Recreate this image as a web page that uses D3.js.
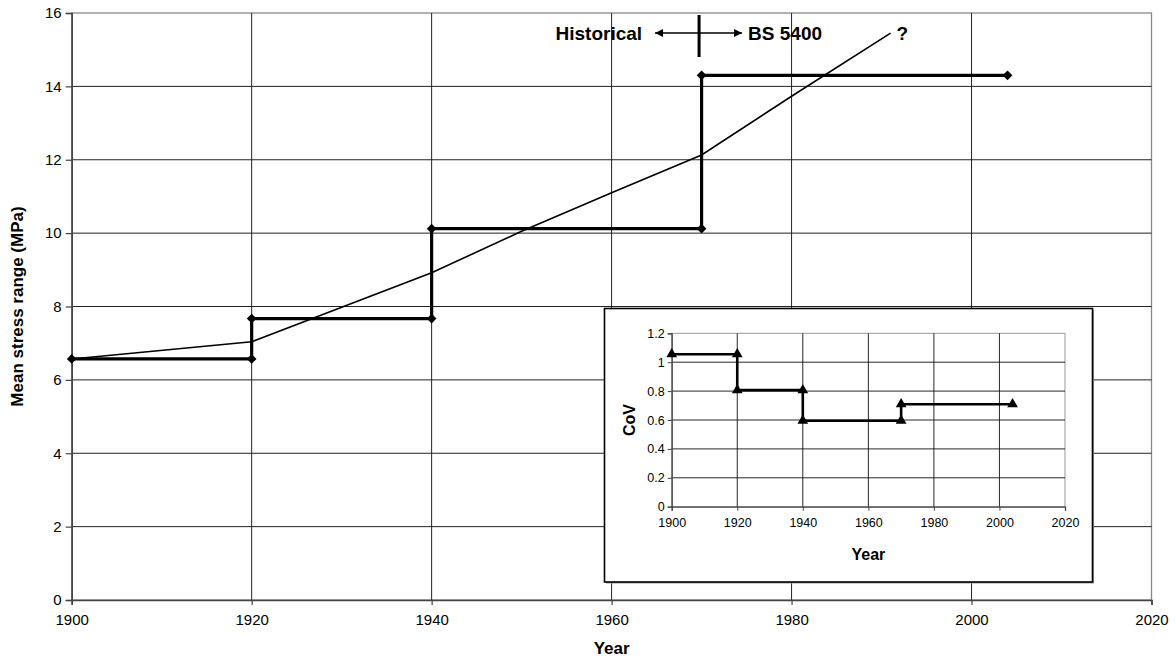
<!DOCTYPE html>
<html>
<head>
<meta charset="utf-8">
<script src="https://cdn.jsdelivr.net/npm/d3@7"></script>
<style>
  html, body { margin: 0; padding: 0; background: #fff; }
  svg { display: block; font-family: Arial, "Liberation Sans", sans-serif; }
</style>
</head>
<body>
<div id="chart"></div>
<script>
// --- DATA ---
// main chart: mean stress range step series (year, MPa)
const stepYears  = [1900, 1920, 1920, 1940, 1940, 1970, 1970, 2004];
const stepStress = [6.57, 6.57, 7.67, 7.67, 10.12, 10.12, 14.3, 14.3];

// thin trend line
const trendYears  = [1900, 1920, 1940, 1950, 1960, 1970, 1980, 1991];
const trendStress = [6.57, 7.04, 8.92, 10.05, 11.1, 12.13, 13.73, 15.45];

// inset: CoV step series
const covYears = [1900, 1920, 1920, 1940, 1940, 1970, 1970, 2004];
const covVals  = [1.055, 1.055, 0.807, 0.807, 0.595, 0.595, 0.709, 0.709];

const yearTicks   = [1900, 1920, 1940, 1960, 1980, 2000, 2020];
const stressTicks = [0, 2, 4, 6, 8, 10, 12, 14, 16];
const covTicks    = [0, 0.2, 0.4, 0.6, 0.8, 1, 1.2];

// --- LAYOUT ---
const WIDTH = 1176, HEIGHT = 666;
const PLOT = { left: 71.7, right: 1151.5, top: 13, bottom: 600 };
const INSET_BOX = { left: 604.5, right: 1092.5, top: 308.5, bottom: 582 };
const INSET = { left: 671.7, right: 1065, top: 333.3, bottom: 506.7 };
const FONT = "Arial, 'Liberation Sans', sans-serif";

const svg = d3.select("#chart").append("svg")
  .attr("width", WIDTH).attr("height", HEIGHT)
  .attr("viewBox", [0, 0, WIDTH, HEIGHT]);

svg.append("rect").attr("width", WIDTH).attr("height", HEIGHT).attr("fill", "#fff");

const x = d3.scaleLinear().domain([1900, 2020]).range([PLOT.left, PLOT.right]);
const y = d3.scaleLinear().domain([0, 16]).range([PLOT.bottom, PLOT.top]);

// plot border (grey, top/right)
svg.append("rect")
  .attr("x", PLOT.left).attr("y", PLOT.top)
  .attr("width", PLOT.right - PLOT.left).attr("height", PLOT.bottom - PLOT.top)
  .attr("fill", "none").attr("stroke", "#888").attr("stroke-width", 1.3);

// gridlines
svg.append("g").selectAll("line.hg")
  .data(stressTicks.filter(d => d > 0 && d < 16))
  .join("line")
  .attr("x1", PLOT.left).attr("x2", PLOT.right)
  .attr("y1", d => y(d)).attr("y2", d => y(d))
  .attr("stroke", "#222").attr("stroke-width", 1);

svg.append("g").selectAll("line.vg")
  .data(yearTicks.filter(d => d > 1900 && d < 2020))
  .join("line")
  .attr("x1", d => x(d)).attr("x2", d => x(d))
  .attr("y1", PLOT.top).attr("y2", PLOT.bottom)
  .attr("stroke", "#222").attr("stroke-width", 1);

// axes
const yAxis = d3.axisLeft(y).tickValues(stressTicks).tickSize(6).tickPadding(4).tickFormat(d3.format("d"));
const xAxis = d3.axisBottom(x).tickValues(yearTicks).tickSize(5).tickPadding(9).tickFormat(d3.format("d"));

const gy = svg.append("g").attr("transform", `translate(${PLOT.left},0)`).call(yAxis);
const gx = svg.append("g").attr("transform", `translate(0,${PLOT.bottom})`).call(xAxis);
[gx, gy].forEach(g => {
  g.attr("font-size", 15).attr("font-family", FONT);
  g.select(".domain").attr("stroke", "#444").attr("stroke-width", 1.6);
  g.selectAll(".tick line").attr("stroke", "#444").attr("stroke-width", 1.2);
  g.selectAll("text").attr("fill", "#000");
});

// axis titles
svg.append("text")
  .attr("x", (PLOT.left + PLOT.right) / 2).attr("y", 654)
  .attr("text-anchor", "middle").attr("font-size", "17px").attr("font-weight", "bold")
  .text("Year");
svg.append("text")
  .attr("transform", `translate(23,${(PLOT.top + PLOT.bottom) / 2}) rotate(-90)`)
  .attr("text-anchor", "middle").attr("font-size", "17px").attr("font-weight", "bold")
  .text("Mean stress range (MPa)");

// trend line
const trend = trendYears.map((yr, i) => [yr, trendStress[i]]);
svg.append("path")
  .datum(trend)
  .attr("d", d3.line().x(d => x(d[0])).y(d => y(d[1])))
  .attr("fill", "none").attr("stroke", "#000").attr("stroke-width", 1.6);

// step series
const steps = stepYears.map((yr, i) => [yr, stepStress[i]]);
svg.append("path")
  .datum(steps)
  .attr("d", d3.line().x(d => x(d[0])).y(d => y(d[1])))
  .attr("fill", "none").attr("stroke", "#000").attr("stroke-width", 3.2)
  .attr("stroke-linejoin", "miter");

svg.append("g").selectAll("path")
  .data(steps)
  .join("path")
  .attr("d", d3.symbol(d3.symbolDiamond2, 60))
  .attr("transform", d => `translate(${x(d[0])},${y(d[1])})`)
  .attr("fill", "#000");

// annotation: Historical <-|-> BS 5400 ?
const defs = svg.append("defs");
defs.append("marker")
  .attr("id", "ah").attr("viewBox", "0 0 10 10")
  .attr("refX", 10).attr("refY", 5)
  .attr("markerWidth", 10).attr("markerHeight", 8).attr("markerUnits", "userSpaceOnUse")
  .attr("orient", "auto-start-reverse")
  .append("path").attr("d", "M0,0 L10,5 L0,10 Z").attr("fill", "#000");

const divX = x(1970) - 2.5;
const arrowY = 33;
svg.append("line")
  .attr("x1", divX).attr("x2", divX).attr("y1", 15).attr("y2", 57)
  .attr("stroke", "#000").attr("stroke-width", 3);
svg.append("line")
  .attr("x1", divX - 44).attr("x2", divX + 43).attr("y1", arrowY).attr("y2", arrowY)
  .attr("stroke", "#000").attr("stroke-width", 1.3)
  .attr("marker-start", "url(#ah)").attr("marker-end", "url(#ah)");
svg.append("text")
  .attr("x", divX - 57).attr("y", arrowY + 7)
  .attr("text-anchor", "end").attr("font-size", "19px").attr("font-weight", "bold")
  .text("Historical");
svg.append("text")
  .attr("x", divX + 49).attr("y", arrowY + 7)
  .attr("font-size", "19px").attr("font-weight", "bold")
  .text("BS 5400");
svg.append("text")
  .attr("x", x(trendYears[trendYears.length - 1]) + 6)
  .attr("y", y(trendStress[trendStress.length - 1]) + 7)
  .attr("font-size", "19px").attr("font-weight", "bold")
  .text("?");

// --- INSET ---
const inset = svg.append("g");
inset.append("rect")
  .attr("x", INSET_BOX.left + 1.5).attr("y", INSET_BOX.top + 1.5)
  .attr("width", INSET_BOX.right - INSET_BOX.left).attr("height", INSET_BOX.bottom - INSET_BOX.top)
  .attr("fill", "#999");
inset.append("rect")
  .attr("x", INSET_BOX.left).attr("y", INSET_BOX.top)
  .attr("width", INSET_BOX.right - INSET_BOX.left).attr("height", INSET_BOX.bottom - INSET_BOX.top)
  .attr("fill", "#fff").attr("stroke", "#000").attr("stroke-width", 1.6);

const ix = d3.scaleLinear().domain([1900, 2020]).range([INSET.left, INSET.right]);
const iy = d3.scaleLinear().domain([0, 1.2]).range([INSET.bottom, INSET.top]);

inset.append("rect")
  .attr("x", INSET.left).attr("y", INSET.top)
  .attr("width", INSET.right - INSET.left).attr("height", INSET.bottom - INSET.top)
  .attr("fill", "none").attr("stroke", "#999").attr("stroke-width", 1);

inset.append("g").selectAll("line")
  .data(covTicks.filter(d => d > 0 && d < 1.2))
  .join("line")
  .attr("x1", INSET.left).attr("x2", INSET.right)
  .attr("y1", d => iy(d)).attr("y2", d => iy(d))
  .attr("stroke", "#111").attr("stroke-width", 0.9);
inset.append("g").selectAll("line")
  .data(yearTicks.filter(d => d > 1900 && d < 2020))
  .join("line")
  .attr("x1", d => ix(d)).attr("x2", d => ix(d))
  .attr("y1", INSET.top).attr("y2", INSET.bottom)
  .attr("stroke", "#111").attr("stroke-width", 0.9);

const igy = inset.append("g").attr("transform", `translate(${INSET.left},0)`)
  .call(d3.axisLeft(iy).tickValues(covTicks).tickSize(4).tickPadding(3).tickFormat(d => String(+d.toFixed(1))));
const igx = inset.append("g").attr("transform", `translate(0,${INSET.bottom})`)
  .call(d3.axisBottom(ix).tickValues(yearTicks).tickSize(4).tickPadding(7).tickFormat(d3.format("d")));
[igx, igy].forEach(g => {
  g.attr("font-size", 12.5).attr("font-family", FONT);
  g.select(".domain").attr("stroke", "#444").attr("stroke-width", 1.3);
  g.selectAll(".tick line").attr("stroke", "#444");
  g.selectAll("text").attr("fill", "#000");
});

inset.append("text")
  .attr("x", (INSET.left + INSET.right) / 2).attr("y", 560)
  .attr("text-anchor", "middle").attr("font-size", "16px").attr("font-weight", "bold")
  .text("Year");
inset.append("text")
  .attr("transform", `translate(635,${(INSET.top + INSET.bottom) / 2}) rotate(-90)`)
  .attr("text-anchor", "middle").attr("font-size", "16px").attr("font-weight", "bold")
  .text("CoV");

const cov = covYears.map((yr, i) => [yr, covVals[i]]);
inset.append("path")
  .datum(cov)
  .attr("d", d3.line().x(d => ix(d[0])).y(d => iy(d[1])))
  .attr("fill", "none").attr("stroke", "#000").attr("stroke-width", 2.6);
inset.append("g").selectAll("path")
  .data(cov)
  .join("path")
  .attr("d", d3.symbol(d3.symbolTriangle, 50))
  .attr("transform", d => `translate(${ix(d[0])},${iy(d[1])})`)
  .attr("fill", "#000");
</script>
</body>
</html>
